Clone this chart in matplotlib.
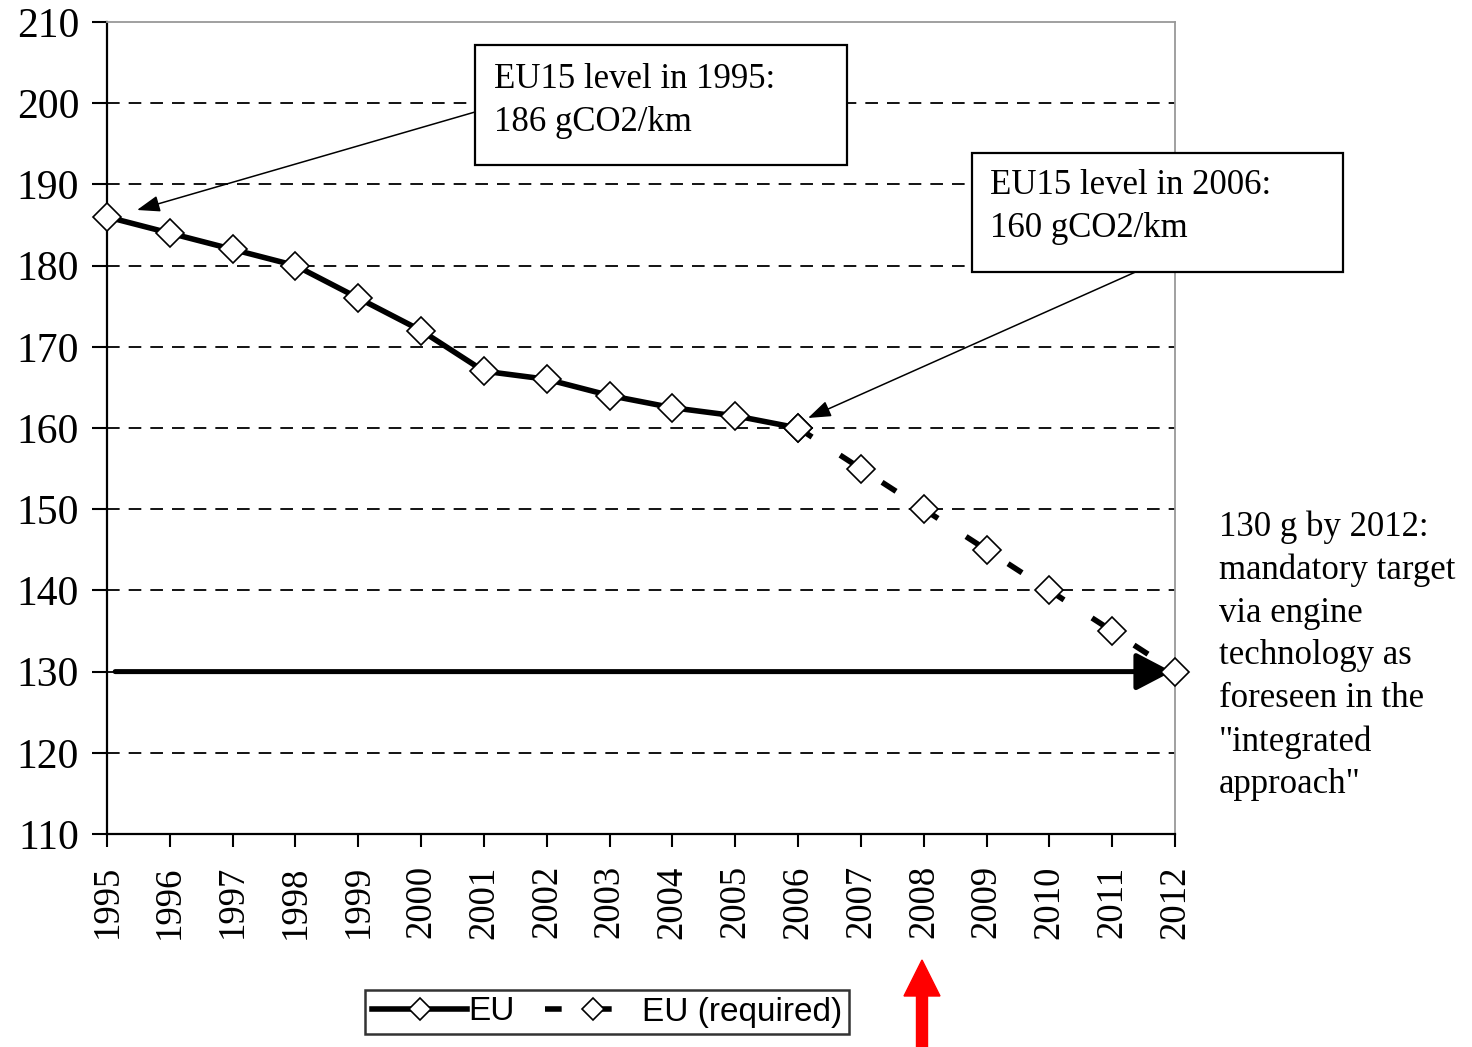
import matplotlib
matplotlib.use("Agg")
import matplotlib.pyplot as plt
from matplotlib.patches import Rectangle, FancyArrow

years = [1995, 1996, 1997, 1998, 1999, 2000, 2001, 2002, 2003, 2004, 2005, 2006,
         2007, 2008, 2009, 2010, 2011, 2012]
eu_years = [1995, 1996, 1997, 1998, 1999, 2000, 2001, 2002, 2003, 2004, 2005, 2006]
eu_values = [186, 184, 182, 180, 176, 172, 167, 166, 164, 162.5, 161.5, 160]
req_years = [2006, 2007, 2008, 2009, 2010, 2011, 2012]
req_values = [160, 155, 150, 145, 140, 135, 130]
y_ticks = [110, 120, 130, 140, 150, 160, 170, 180, 190, 200, 210]
target = 130

W, H = 1472, 1047
fig = plt.figure(figsize=(W / 100, H / 100), dpi=100)

def fp(x, y):
    return (x / W, 1 - y / H)

serif = ['Liberation Serif', 'DejaVu Serif']
sans = ['Liberation Sans', 'DejaVu Sans']

ax = fig.add_axes([107 / W, 1 - 834 / H, (1175 - 107) / W, (834 - 22) / H])
ax.set_xlim(1995, 2012)
ax.set_ylim(110, 210)
ax.set_yticks(y_ticks)
ax.set_xticks(years)
ax.set_xticklabels([str(y) for y in years], rotation=90, fontfamily=serif, fontsize=26.5)
ax.set_yticklabels([str(v) for v in y_ticks], fontfamily=serif, fontsize=30)
ax.tick_params(axis='y', direction='out', length=11, width=1.5, pad=9)
ax.tick_params(axis='x', direction='out', length=9.5, width=1.5, pad=13)
for v in y_ticks[1:-1]:
    ax.axhline(v, color='black', lw=1.3, dashes=(7, 5), zorder=1)
ax.spines['left'].set_linewidth(1.6)
ax.spines['bottom'].set_linewidth(1.6)
ax.spines['top'].set_color('#999999')
ax.spines['right'].set_color('#999999')
ax.spines['top'].set_linewidth(1.3)
ax.spines['right'].set_linewidth(1.3)

# target arrow
ax.annotate('', xy=(2011.95, target), xytext=(1995.13, target),
            arrowprops=dict(arrowstyle='-|>,head_length=2.2,head_width=1.15',
                            lw=3.6, color='black', shrinkA=0, shrinkB=0), zorder=3)

l1, = ax.plot(eu_years, eu_values, color='black', lw=4, marker='D', ms=14,
              mfc='white', mec='black', mew=1.2, zorder=5, clip_on=False, label='EU')
l2, = ax.plot(req_years, req_values, color='black', lw=4, dashes=(3, 6), marker='D', ms=14,
              mfc='white', mec='black', mew=1.2, zorder=5, clip_on=False, label='EU (required)')

# boxes
def box(x0, y0, x1, y1):
    bl = fp(x0, y1)
    tr = fp(x1, y0)
    r = Rectangle(bl, tr[0] - bl[0], tr[1] - bl[1], transform=fig.transFigure,
                  facecolor='white', edgecolor='black', lw=1.6, zorder=10)
    fig.add_artist(r)

box(475, 45, 847, 165)
fig.text(*fp(494, 63), "EU15 level in 1995:\n186 gCO2/km", fontfamily=serif, fontsize=25,
         va='top', ha='left', linespacing=1.4, zorder=11)
box(972, 153, 1343, 272)
fig.text(*fp(990, 169), "EU15 level in 2006:\n160 gCO2/km", fontfamily=serif, fontsize=25,
         va='top', ha='left', linespacing=1.4, zorder=11)

ax.annotate('', xy=fp(137, 210), xytext=fp(475, 112), xycoords='figure fraction',
            textcoords='figure fraction',
            arrowprops=dict(arrowstyle='-|>,head_length=1.4,head_width=0.5', lw=1.1,
                            color='black', shrinkA=0, shrinkB=0), zorder=6)
ax.annotate('', xy=fp(808, 418), xytext=fp(1140, 270), xycoords='figure fraction',
            textcoords='figure fraction',
            arrowprops=dict(arrowstyle='-|>,head_length=1.4,head_width=0.5', lw=1.1,
                            color='black', shrinkA=0, shrinkB=0), zorder=6)

fig.text(*fp(1219, 510),
         '130 g by 2012:\nmandatory target\nvia engine\ntechnology as\nforeseen in the\n"integrated\napproach"',
         fontfamily=serif, fontsize=25, va='top', ha='left', linespacing=1.39)

# legend
leg = fig.legend(handles=[l1, l2], loc='center', bbox_to_anchor=fp(607, 1012), ncol=2,
                 prop={'family': sans, 'size': 24}, frameon=True, fancybox=False,
                 edgecolor='black', handlelength=2.85, handletextpad=0.05, columnspacing=0.9,
                 borderpad=0.2, borderaxespad=0, markerscale=0.8)
leg.get_frame().set_linewidth(1.8)

# red arrow
tail = fp(922, 1047)
tip = fp(922, 960)
fig.add_artist(FancyArrow(tail[0], tail[1], 0, tip[1] - tail[1], width=11 / W, head_width=36 / W,
                          head_length=36 / H, length_includes_head=True, color='red',
                          transform=fig.transFigure, zorder=12))

fig.savefig('out.png', dpi=100)
